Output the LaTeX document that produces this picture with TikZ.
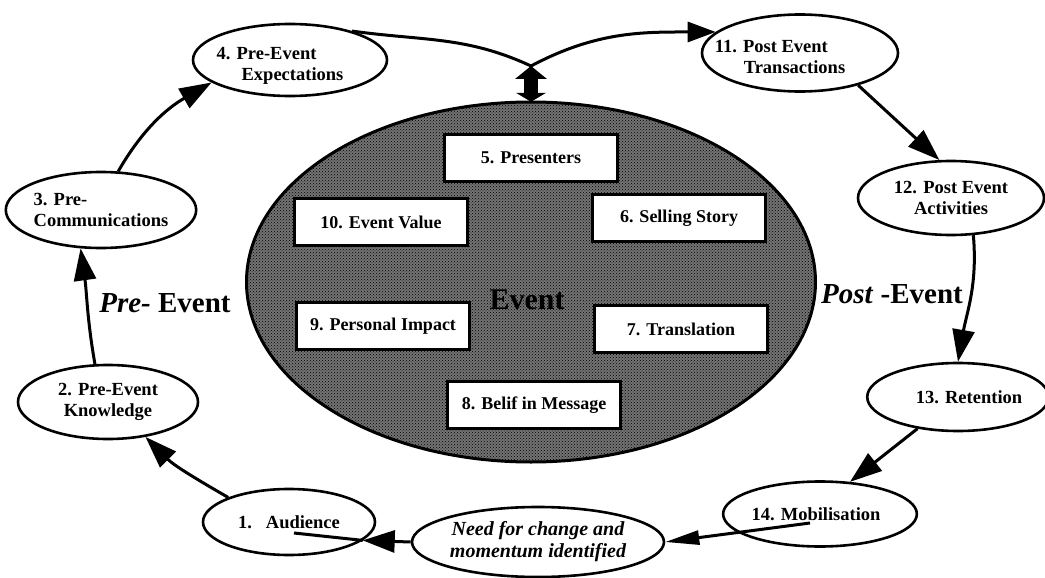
\documentclass[tikz,border=0pt]{standalone}
\usepackage{fontspec}
\setmainfont{Liberation Serif}
\usetikzlibrary{shapes.geometric,arrows.meta,patterns}

\newcommand\ovfont{\fontsize{18.5}{21}\selectfont\bfseries}
\newcommand\panelfont{\fontsize{18}{20}\selectfont\bfseries}
\newcommand\sidefont{\fontsize{29}{30}\selectfont\bfseries}

\begin{document}
\begin{tikzpicture}[x=1pt,y=1pt,
  oval/.style={ellipse, draw, line width=2.6pt, fill=white, inner sep=0pt,
               font=\ovfont, align=center},
  ovtext/.style={inner sep=0pt, font=\ovfont, align=left},
  panel/.style={rectangle, draw, fill=white, line width=2.6pt, inner sep=0pt,
                minimum width=173pt, minimum height=47pt, font=\panelfont},
  conn/.style={line width=3pt},
  head/.style={-{Triangle[length=32pt,width=22pt]}},
  headsmall/.style={-{Triangle[length=28pt,width=20pt]}},
  headthin/.style={-{Triangle[length=34pt,width=14pt]}}
]
\useasboundingbox (0,0) rectangle (1045,-578);

% central event ellipse: grey ground with a dotted screen on top
\node[ellipse, fill=black!55, minimum width=569pt,
      minimum height=360pt, inner sep=0pt] (ev) at (531,-282) {};
\fill[pattern=crosshatch dots, pattern color=black] (ev.center) ellipse[x radius=284.5pt, y radius=180pt];
\draw[line width=3pt] (ev.center) ellipse[x radius=284.5pt, y radius=180pt];
\node[panel] (b5)  at (531,-158) {5. Presenters};
\node[panel] (b10) at (381,-222) {10. Event Value};
\node[panel] (b6)  at (679,-218) {6. Selling Story};
\node[panel] (b9)  at (383,-326) {9. Personal Impact};
\node[panel] (b7)  at (681,-329) {7. Translation};
\node[panel] (b8)  at (534,-405) {8. Belif in Message};
\node[font=\fontsize{30}{30}\selectfont\bfseries] (evt) at (527,-300) {Event};

% side labels
\node[font=\sidefont] (pre)  at (165,-303) {\textit{Pre-} Event};
\node[font=\sidefont] (post) at (892,-294) {\textit{Post} -Event};

% outer cycle of stages
\node[oval, minimum width=172pt, minimum height=66pt] (n1) at (289,-522) {1.\hspace{14pt}Audience};
\node[oval, minimum width=180pt, minimum height=74pt] (n2) at (108,-402) {2. Pre-Event\\Knowledge};
\node[oval, minimum width=182pt, minimum height=76pt, align=left] (n3) at (101,-210) {3. Pre-\\Communications};
\node[oval, minimum width=194pt, minimum height=72pt] (n4) at (290,-60) {};
\node[ovtext] (t4) at (280,-66) {4. Pre-Event\\\hspace{25pt}Expectations};
\node[oval, minimum width=196pt, minimum height=77pt] (n11) at (800,-53) {};
\node[ovtext] (t11) at (780,-57) {11. Post Event\\\hspace{29pt}Transactions};
\node[oval, minimum width=186pt, minimum height=74pt] (n12) at (951,-198) {12. Post Event\\Activities};
\node[oval, minimum width=166pt, minimum height=68pt] (n13) at (958,-397) {\hspace{22pt}13. Retention};
\node[oval, minimum width=166pt, minimum height=65pt] (n14) at (820,-514) {14. Mobilisation\hspace{8pt}};
\node[oval, minimum width=252pt, minimum height=70pt,
      font=\fontsize{20}{22}\selectfont\bfseries\itshape] (need) at (538,-542)
      {Need for change and\\momentum identified};

% junction above the event and inner line ends
\coordinate (jn) at (531,-66);
\coordinate (m14) at (810,-523);
\coordinate (a1) at (294,-533);

% link between the event and the upper path
\draw[line width=14pt,
      {Triangle[length=9pt,width=30pt,line width=0pt]}-{Triangle[length=13pt,width=32pt,line width=0pt]}]
      (ev.north) -- (jn);

% connectors
\draw[conn, head] (n1.158) to[out=150, in=-45] (n2.-43);
\draw[conn, head] (n2.109) to[out=100, in=-82] (n3.-118);
\draw[conn, head] (n3.66) to[out=60, in=-150] (n4.-164);
\draw[conn, headsmall] (n4.25) to[out=-8, in=155] (jn) to[out=28, in=180] (n11.166);
\draw[conn, head] (n11.-29) -- (n12.107);
\draw[conn, head] (n12.-59) to[out=-85, in=80] (n13.north);
\draw[conn, head] (n13.-142) -- (n14.47);
\draw[conn, headthin] (m14) -- (need.east);
\draw[conn, head] (need.west) -- (n1.-14);
\draw[conn] (n1.-14) -- (a1);
\end{tikzpicture}
\end{document}
